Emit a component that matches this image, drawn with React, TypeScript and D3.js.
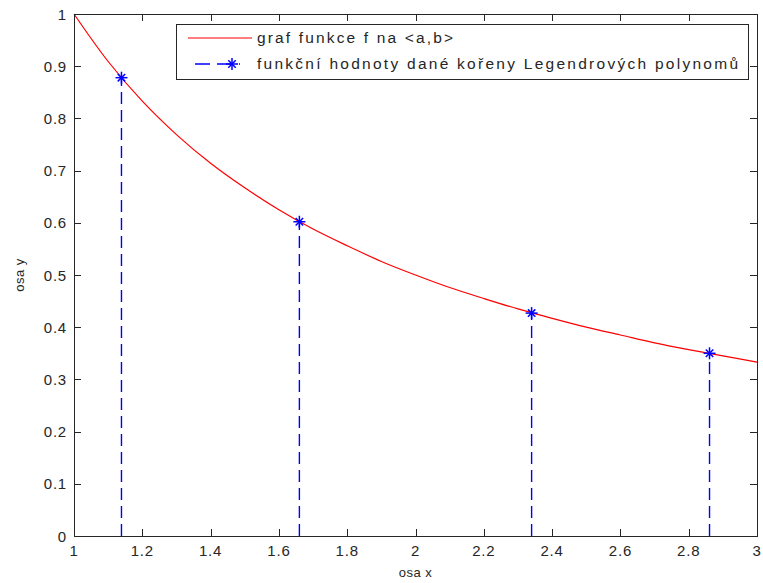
import React, { useEffect, useRef } from "react";
import { select, scaleLinear, line, range, curveCatmullRom } from "d3";

const curveX = [1, 1.1, 1.2, 1.3, 1.4, 1.5, 1.6, 1.7, 1.8, 1.9, 2, 2.1, 2.2, 2.3, 2.4, 2.5, 2.6, 2.7, 2.8, 2.9, 3];
const curveY = [1, 0.909, 0.833, 0.769, 0.714, 0.667, 0.625, 0.588, 0.556, 0.526, 0.5, 0.476, 0.455, 0.435, 0.417, 0.4, 0.385, 0.37, 0.357, 0.345, 0.333];

// blue stems at the Legendre roots
const nodeX = [1.139, 1.66, 2.34, 2.861];
const nodeY = [0.878, 0.602, 0.427, 0.35];

const xTicks = [1, 1.2, 1.4, 1.6, 1.8, 2, 2.2, 2.4, 2.6, 2.8, 3];
const yTicks = [0, 0.1, 0.2, 0.3, 0.4, 0.5, 0.6, 0.7, 0.8, 0.9, 1];

const legendLabels = ["graf funkce f na <a,b>", "funkční hodnoty dané kořeny Legendrových polynomů"];

const W = 763;
const H = 583;
const margin = { left: 74, right: 6, top: 14, bottom: 47 };
const FONT = "'Liberation Sans', Arial, sans-serif";
const AXIS = "#262626";

function App() {
  const svgRef = useRef<SVGSVGElement>(null);

  useEffect(() => {
    const svg = select(svgRef.current);
    svg.selectAll("*").remove();

    const x = scaleLinear().domain([1, 3]).range([margin.left, W - margin.right]);
    const y = scaleLinear().domain([0, 1]).range([H - margin.bottom, margin.top]);
    const [x0, x1] = x.range();
    const [y0, y1] = y.range();

    // ticks (inward, on all four sides)
    const tl = 7;
    const g = svg.append("g").attr("stroke", AXIS).attr("stroke-width", 1).attr("shape-rendering", "crispEdges");
    xTicks.forEach(t => {
      const px = Math.round(x(t)) + 0.5;
      g.append("line").attr("x1", px).attr("x2", px).attr("y1", y0).attr("y2", y0 - tl);
      g.append("line").attr("x1", px).attr("x2", px).attr("y1", y1).attr("y2", y1 + tl);
    });
    yTicks.forEach(t => {
      const py = Math.round(y(t)) + 0.5;
      g.append("line").attr("x1", x0).attr("x2", x0 + tl).attr("y1", py).attr("y2", py);
      g.append("line").attr("x1", x1).attr("x2", x1 - tl).attr("y1", py).attr("y2", py);
    });

    // red curve
    const curveData = range(curveX.length).map(i => [curveX[i], curveY[i]] as [number, number]);
    svg.append("path")
      .attr("d", line<[number, number]>().x(d => x(d[0])).y(d => y(d[1])).curve(curveCatmullRom)(curveData))
      .attr("fill", "none")
      .attr("stroke", "#ff0000")
      .attr("stroke-width", 1.2);

    // blue dashed stems
    nodeX.forEach((nx, i) => {
      svg.append("line")
        .attr("x1", x(nx)).attr("x2", x(nx))
        .attr("y1", y(0)).attr("y2", y(nodeY[i]))
        .attr("stroke", "#0000ff")
        .attr("stroke-width", 1.4)
        .attr("stroke-dasharray", "12,6");
    });

    const star = (sel, cx: number, cy: number, r: number) => {
      const s = sel.append("g").attr("stroke", "#0000ff").attr("stroke-width", 1.5);
      s.append("line").attr("x1", cx - r).attr("x2", cx + r).attr("y1", cy).attr("y2", cy);
      s.append("line").attr("x1", cx).attr("x2", cx).attr("y1", cy - r).attr("y2", cy + r);
      const d = r * 0.62;
      s.append("line").attr("x1", cx - d).attr("x2", cx + d).attr("y1", cy - d).attr("y2", cy + d);
      s.append("line").attr("x1", cx - d).attr("x2", cx + d).attr("y1", cy + d).attr("y2", cy - d);
    };
    nodeX.forEach((nx, i) => star(svg, x(nx), y(nodeY[i]), 6));

    // box
    svg.append("rect")
      .attr("x", x0 + 0.5).attr("y", y1 + 0.5)
      .attr("width", x1 - x0).attr("height", y0 - y1)
      .attr("fill", "none").attr("stroke", AXIS).attr("stroke-width", 1)
      .attr("shape-rendering", "crispEdges");

    // tick labels
    const fmt = (t: number) => String(+t.toFixed(1));
    xTicks.forEach(t => {
      svg.append("text").attr("x", x(t)).attr("y", y0 + 20)
        .attr("text-anchor", "middle").attr("font-family", FONT).attr("font-size", 15)
        .attr("letter-spacing", 0.8).attr("fill", AXIS).text(fmt(t));
    });
    yTicks.forEach(t => {
      svg.append("text").attr("x", x0 - 7).attr("y", y(t) + 5.5)
        .attr("text-anchor", "end").attr("font-family", FONT).attr("font-size", 15)
        .attr("letter-spacing", 0.8).attr("fill", AXIS).text(fmt(t));
    });

    // axis titles
    svg.append("text").attr("x", (x0 + x1) / 2).attr("y", 577)
      .attr("text-anchor", "middle").attr("font-family", FONT).attr("font-size", 13)
      .attr("letter-spacing", 0.5).attr("fill", AXIS).text("osa x");
    svg.append("text").attr("transform", `translate(24,${(y0 + y1) / 2}) rotate(-90)`)
      .attr("text-anchor", "middle").attr("font-family", FONT).attr("font-size", 13)
      .attr("letter-spacing", 0.5).attr("fill", AXIS).text("osa y");

    // legend
    const lg = svg.append("g");
    lg.append("rect").attr("x", 176.5).attr("y", 24.5).attr("width", 572).attr("height", 55)
      .attr("fill", "#fff").attr("stroke", AXIS).attr("shape-rendering", "crispEdges");
    lg.append("line").attr("x1", 188).attr("x2", 252).attr("y1", 38).attr("y2", 38)
      .attr("stroke", "#ff0000").attr("stroke-width", 1.2);
    lg.append("line").attr("x1", 195).attr("x2", 240).attr("y1", 64).attr("y2", 64)
      .attr("stroke", "#0000ff").attr("stroke-width", 1.5).attr("stroke-dasharray", "15,7");
    star(lg, 232, 64, 6);
    const textLens = [196, 481];
    legendLabels.forEach((l, i) => {
      lg.append("text").attr("x", 257).attr("y", 43 + i * 26)
        .attr("font-family", FONT).attr("font-size", 15.5).attr("fill", AXIS)
        .attr("textLength", textLens[i]).attr("lengthAdjust", "spacing")
        .text(l);
    });
  }, []);

  return (
    <svg ref={svgRef} width={W} height={H}
      style={{ position: "absolute", left: 0, top: 0, background: "#fff" }} />
  );
}

export default App;
